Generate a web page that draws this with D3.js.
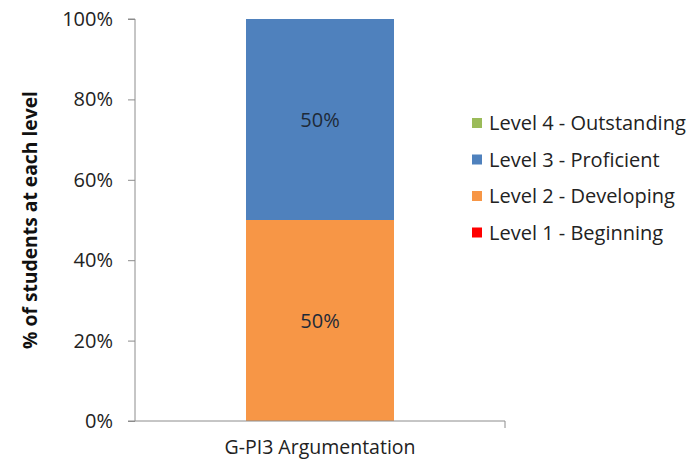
<!DOCTYPE html>
<html>
<head>
<meta charset="utf-8">
<script src="https://cdn.jsdelivr.net/npm/d3@7"></script>
<style>
  html, body { margin: 0; padding: 0; background: #fff; }
  svg { display: block; font-family: "Open Sans", "Noto Sans", sans-serif; }
</style>
</head>
<body>
<svg id="chart" width="688" height="462"></svg>
<script>
// Stacked percentage bar for a single performance indicator
const categories = ["G-PI3 Argumentation"];
const levels = ["Level 1 - Beginning", "Level 2 - Developing", "Level 3 - Proficient", "Level 4 - Outstanding"];
const level1 = [0];
const level2 = [50];
const level3 = [50];
const level4 = [0];
const yTicks = [0, 20, 40, 60, 80, 100];
const colors = ["#FF0000", "#F79646", "#4F81BD", "#9BBB59"];

const seriesValues = [level1, level2, level3, level4];
const rows = categories.map((c, i) => {
  const r = { category: c };
  levels.forEach((l, j) => { r[l] = seriesValues[j][i]; });
  return r;
});

const svg = d3.select("#chart");
const plot = { left: 135, right: 505, top: 19, bottom: 421 };
const fs = 20;

const x = d3.scaleBand().domain(categories).range([plot.left, plot.right]).paddingInner(0).paddingOuter(0);
const y = d3.scaleLinear().domain([0, 100]).range([plot.bottom, plot.top]);

const stacked = d3.stack().keys(levels)(rows);
const barWidth = x.bandwidth() * 0.4;

// Bars
const g = svg.append("g");
stacked.forEach((s, j) => {
  g.selectAll(null).data(s).enter().append("rect")
    .attr("x", d => x(d.data.category) + (x.bandwidth() - barWidth) / 2)
    .attr("y", d => y(d[1]))
    .attr("width", barWidth)
    .attr("height", d => y(d[0]) - y(d[1]))
    .attr("fill", colors[j]);
  // Value labels for non-empty segments
  g.selectAll(null).data(s.filter(d => d[1] - d[0] > 0)).enter().append("text")
    .attr("x", d => x(d.data.category) + x.bandwidth() / 2)
    .attr("y", d => y((d[0] + d[1]) / 2))
    .attr("dy", "0.35em")
    .attr("text-anchor", "middle")
    .attr("font-size", fs)
    .attr("fill", "#1e2a38")
    .text(d => (d[1] - d[0]) + "%");
});

// Y axis
const yAxis = d3.axisLeft(y).tickValues(yTicks).tickFormat(d => d + "%").tickSize(7).tickPadding(15);
const ya = svg.append("g").attr("transform", `translate(${plot.left},0)`).call(yAxis);
ya.select(".domain").attr("stroke", "#8c8c8c").attr("d", `M-7,${plot.top}H0V${plot.bottom}`);
ya.selectAll(".tick line").attr("stroke", "#8c8c8c");
ya.selectAll(".tick text").attr("font-size", fs).attr("fill", "#222").attr("font-family", "\"Open Sans\", sans-serif");

// X axis
const xa = svg.append("g").attr("transform", `translate(0,${plot.bottom})`)
  .call(d3.axisBottom(x).tickSize(0).tickPadding(19));
xa.select(".domain").attr("stroke", "#8c8c8c").attr("d", `M${plot.left - 7},0H${plot.right}V7`);
xa.selectAll(".tick text").attr("font-size", 19.5).attr("fill", "#222").attr("font-family", "\"Open Sans\", sans-serif");

// Y axis title
svg.append("text")
  .attr("transform", `translate(37,${(plot.top + plot.bottom) / 2}) rotate(-90)`)
  .attr("text-anchor", "middle")
  .attr("font-size", 19.3)
  .attr("font-weight", "bold")
  .attr("fill", "#111")
  .text("% of students at each level");

// Legend (top entry = highest level)
const legendItems = levels.map((l, j) => ({ label: l, color: colors[j] })).reverse();
const legend = svg.append("g").attr("transform", "translate(472,123)");
const item = legend.selectAll("g").data(legendItems).enter().append("g")
  .attr("transform", (d, i) => `translate(0,${i * 36.5})`);
item.append("rect").attr("x", 0).attr("y", -5).attr("width", 10).attr("height", 10).attr("fill", d => d.color);
item.append("text").attr("x", 17).attr("dy", "0.35em")
  .attr("font-size", fs).attr("fill", "#222").text(d => d.label);
</script>
</body>
</html>
